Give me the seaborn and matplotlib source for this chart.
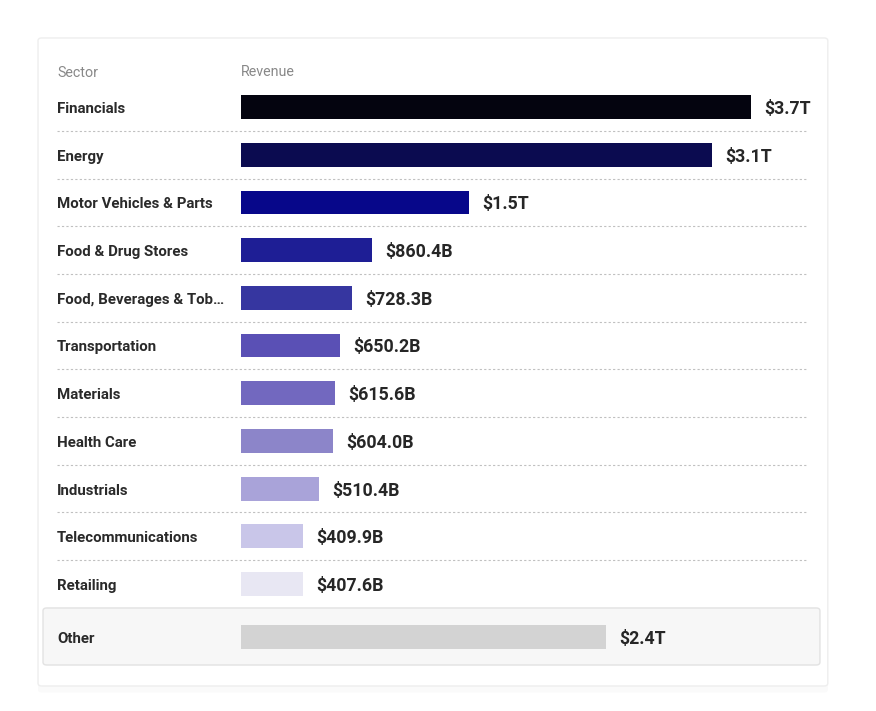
import numpy as np
import seaborn as sns
import matplotlib.pyplot as plt
from matplotlib.patches import FancyBboxPatch
from matplotlib.transforms import blended_transform_factory

# Data
sectors = ["Financials", "Energy", "Motor Vehicles & Parts", "Food & Drug Stores",
           "Food, Beverages & Tob\u2026", "Transportation", "Materials", "Health Care",
           "Industrials", "Telecommunications", "Retailing", "Other"]
revenue = [3.7, 3.1, 1.5, 0.8604, 0.7283, 0.6502, 0.6156, 0.604, 0.5104, 0.4099, 0.4076, 2.4]  # trillions
colors = ["#04040f", "#0b0b50", "#07078a", "#1e1e95", "#3636a0", "#5a50b5",
          "#7268bf", "#8c85c9", "#a9a3d9", "#c9c6e9", "#e8e7f3", "#d3d3d3"]


def fmt(v):
    return f"${v:.1f}T" if v >= 1 else f"${v * 1000:.1f}B"


sns.set_theme(style="white")
plt.rcParams['font.family'] = ['Roboto', 'DejaVu Sans']

fig = plt.figure(figsize=(8.76, 7.11), dpi=100)
fig.patch.set_facecolor("white")

# card + "Other" box
shadow = FancyBboxPatch((0.0434, 0.026), 0.9016, 0.9114, boxstyle="round,pad=0,rounding_size=0.004",
                        transform=fig.transFigure, facecolor="#fafafa", edgecolor="none", zorder=-3)
fig.patches.append(shadow)
card = FancyBboxPatch((0.0434, 0.0352), 0.9016, 0.9114, boxstyle="round,pad=0,rounding_size=0.004",
                      transform=fig.transFigure, facecolor="white", edgecolor="#eeeeee", lw=1, zorder=-2)
fig.patches.append(card)
other_box = FancyBboxPatch((0.0491, 0.0647), 0.8869, 0.0802, boxstyle="round,pad=0,rounding_size=0.004",
                           transform=fig.transFigure, facecolor="#f7f7f7", edgecolor="#e2e2e2", lw=1, zorder=-1)
fig.patches.append(other_box)

ax = fig.add_axes([0.2751, 0.0706, 0.5822, 0.8124])
ax.patch.set_alpha(0)

sns.barplot(x=revenue, y=sectors, hue=sectors, palette=colors, legend=False,
            orient="h", width=0.5, saturation=1, linewidth=0, ax=ax)

xmax = 3.355
other_shift = 0.11
ax.set_xlim(0, xmax)
ax.set_ylim(11 + other_shift + 0.5, -0.5)

# push "Other" a bit lower, into its own box
for p in ax.patches:
    if abs(p.get_y() + p.get_height() / 2 - 11) < 0.01:
        p.set_y(p.get_y() + other_shift)

ypos = list(range(11)) + [11 + other_shift]

ax.set_xticks([])
ax.set_yticks([])
ax.set_xlabel("")
ax.set_ylabel("")
sns.despine(ax=ax, left=True, bottom=True)

blend = blended_transform_factory(fig.transFigure, ax.transData)
dy = 0.04  # small nudge so text sits on the bar centre

# value labels
for v, y in zip(revenue, ypos):
    ax.annotate(fmt(v), (min(v, xmax), y + dy), xytext=(9.5, 0), textcoords="offset points",
                ha="left", va="center", fontsize=12.8, fontweight="semibold", color="#262626",
                annotation_clip=False)

# sector labels
for s, y in zip(sectors, ypos):
    ax.text(0.065, y + dy, s, transform=blend, ha="left", va="center",
            fontsize=10.8, fontweight="semibold", color="#2a2a2a")

# header
ax.text(0.065, -0.72, "Sector", transform=blend, ha="left", va="center", fontsize=10.3, color="#888888")
ax.text(0.0, -0.74, "Revenue", ha="left", va="center", fontsize=10.3, color="#888888")

# dotted separators
for i in range(10):
    ax.plot([0.065, 0.922], [i + 0.5, i + 0.5], transform=blend, color="#c0c0c0",
            lw=0.8, ls=(0, (2, 2)), clip_on=False)

plt.savefig("out.png", dpi=100)
